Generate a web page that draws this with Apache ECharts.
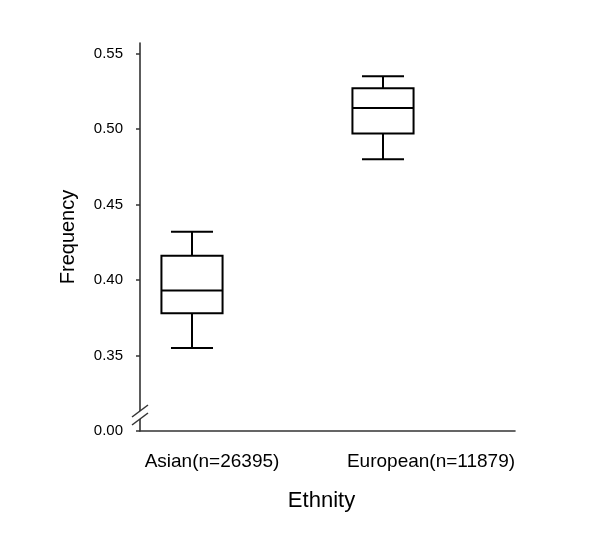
<!DOCTYPE html>
<html>
<head>
<meta charset="utf-8">
<script src="https://cdn.jsdelivr.net/npm/echarts@6/dist/echarts.min.js"></script>
<style>html,body{margin:0;padding:0;background:#fff;}#c{width:600px;height:541px;}</style>
</head>
<body>
<div id="c"></div>
<script>
const categories = ['Asian(n=26395)', 'European(n=11879)'];
const whiskerLow = [0.355, 0.480];
const q1 = [0.378, 0.497];
const median = [0.393, 0.514];
const q3 = [0.416, 0.527];
const whiskerHigh = [0.432, 0.535];
const yTickValues = [0.30, 0.35, 0.40, 0.45, 0.50, 0.55];
const yTickLabels = ['0.00', '0.35', '0.40', '0.45', '0.50', '0.55'];
const yMin = 0.30, yMax = 0.557;
const breakValue = 0.3106;

const FONT = '"Liberation Sans", Arial, sans-serif';
const INK = '#000';
const AXIS = '#333';

const chart = echarts.init(document.getElementById('c'), null, {renderer: 'canvas'});

function renderItem(params, api) {
  const i = api.value(0);
  const cx = api.coord([i, api.value(3)])[0];
  const band = api.size([1, 0])[0];
  const bw = band * 0.32, cw = band * 0.22;
  const yLo = api.coord([i, api.value(1)])[1];
  const yQ1 = api.coord([i, api.value(2)])[1];
  const yMed = api.coord([i, api.value(3)])[1];
  const yQ3 = api.coord([i, api.value(4)])[1];
  const yHi = api.coord([i, api.value(5)])[1];
  const ls = {stroke: INK, lineWidth: 2};
  return {
    type: 'group',
    children: [
      {type: 'line', shape: {x1: cx, y1: yHi, x2: cx, y2: yQ3}, style: ls},
      {type: 'line', shape: {x1: cx, y1: yQ1, x2: cx, y2: yLo}, style: ls},
      {type: 'line', shape: {x1: cx - cw / 2, y1: yHi, x2: cx + cw / 2, y2: yHi}, style: ls},
      {type: 'line', shape: {x1: cx - cw / 2, y1: yLo, x2: cx + cw / 2, y2: yLo}, style: ls},
      {type: 'rect', shape: {x: cx - bw / 2, y: yQ3, width: bw, height: yQ1 - yQ3}, style: {fill: '#fff', stroke: INK, lineWidth: 2}},
      {type: 'line', shape: {x1: cx - bw / 2, y1: yMed, x2: cx + bw / 2, y2: yMed}, style: ls}
    ]
  };
}

const gridTop = 43, gridHeight = 388;
const hiddenY = (gi) => ({
  type: 'value', gridIndex: gi, min: yMin, max: yMax, show: false, splitLine: {show: false}
});

chart.setOption({
  animation: false,
  backgroundColor: '#fff',
  grid: [
    {left: 140, width: 375, top: gridTop, height: gridHeight},
    {left: 96.5, width: 382, top: gridTop, height: gridHeight},
    {left: 102.5, width: 438, top: gridTop, height: gridHeight}
  ],
  xAxis: [
    {
      type: 'value', gridIndex: 0, min: 0, max: 1,
      axisLine: {show: true, lineStyle: {color: AXIS, width: 1.6}},
      axisTick: {show: false}, axisLabel: {show: false}, splitLine: {show: false}
    },
    {
      type: 'category', gridIndex: 1, data: categories, show: false
    },
    {
      type: 'category', gridIndex: 2, data: categories,
      axisLine: {show: false}, axisTick: {show: false}, splitLine: {show: false},
      axisLabel: {color: INK, fontFamily: FONT, fontSize: 19, margin: 21},
      name: 'Ethnity', nameLocation: 'middle', nameGap: 59,
      nameTextStyle: {color: INK, fontFamily: FONT, fontSize: 22}
    }
  ],
  yAxis: [
    {
      type: 'value', gridIndex: 0, min: yMin, max: yMax,
      axisLine: {show: true, lineStyle: {color: AXIS, width: 1.6}},
      axisTick: {show: true, length: 4, customValues: yTickValues, lineStyle: {color: AXIS, width: 1.5}},
      axisLabel: {
        customValues: yTickValues, color: INK, fontFamily: FONT, fontSize: 15, margin: 17,
        formatter: function (v) {
          const idx = yTickValues.findIndex(t => Math.abs(t - v) < 1e-6);
          return idx >= 0 ? yTickLabels[idx] : '';
        }
      },
      splitLine: {show: false},
      name: 'Frequency', nameLocation: 'middle', nameGap: 62,
      nameTextStyle: {color: INK, fontFamily: FONT, fontSize: 20}
    },
    hiddenY(1),
    hiddenY(2)
  ],
  series: [{
    type: 'custom',
    xAxisIndex: 1, yAxisIndex: 1,
    renderItem: renderItem,
    data: categories.map((c, i) => [i, whiskerLow[i], q1[i], median[i], q3[i], whiskerHigh[i]])
  }]
});

const p = chart.convertToPixel({gridIndex: 0}, [0, breakValue]);
const bx = p[0], by = p[1];
chart.setOption({
  graphic: [
    {type: 'rect', shape: {x: bx - 3, y: by - 4, width: 6, height: 8}, style: {fill: '#fff'}, z: 100},
    {type: 'line', shape: {x1: bx - 8, y1: by + 10, x2: bx + 8, y2: by - 2}, style: {stroke: AXIS, lineWidth: 1.5}, z: 101},
    {type: 'line', shape: {x1: bx - 8, y1: by + 2, x2: bx + 8, y2: by - 10}, style: {stroke: AXIS, lineWidth: 1.5}, z: 101}
  ]
});
</script>
</body>
</html>
